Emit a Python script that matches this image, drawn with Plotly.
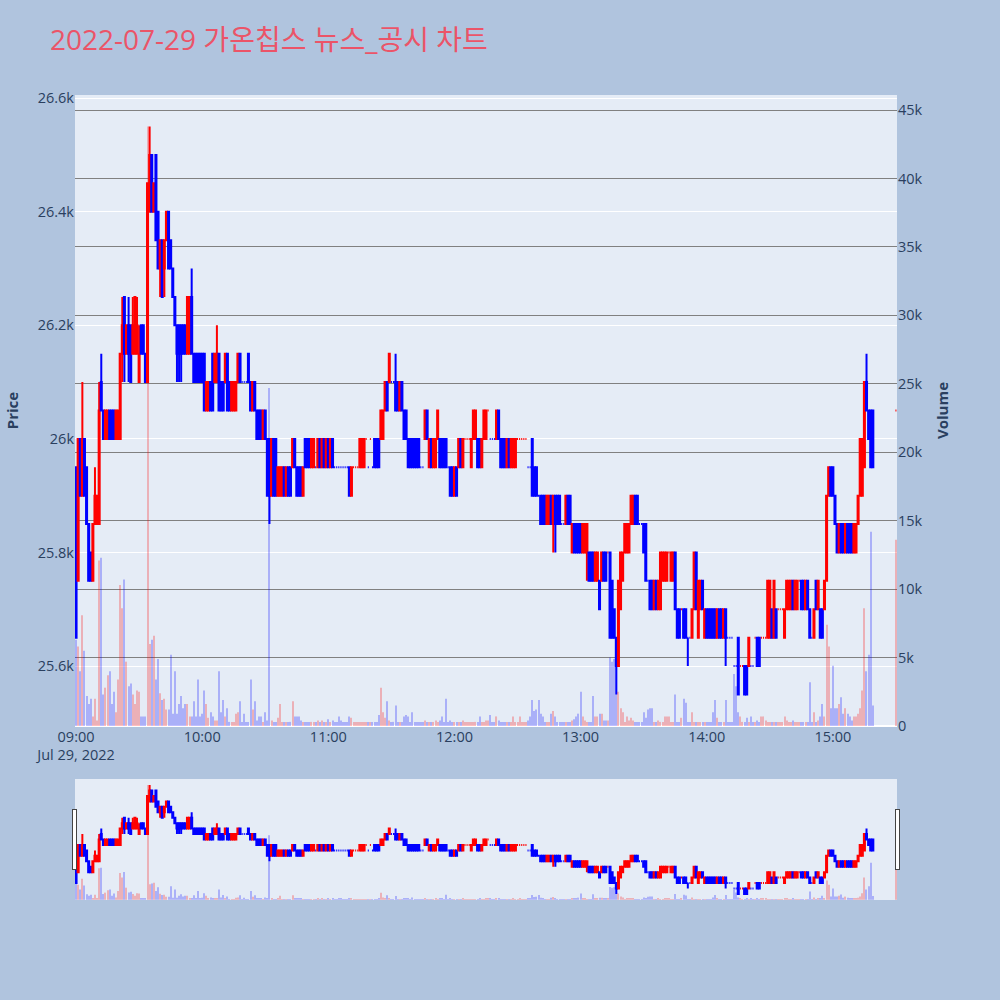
import plotly.graph_objects as go
from plotly.subplots import make_subplots
import pandas as pd

# 1분봉: 09:00 ~ 15:19 연속 체결, 15:30 동시호가 1건
times = pd.date_range("2022-07-29 09:00", periods=380, freq="min").append(
    pd.DatetimeIndex(["2022-07-29 15:30"]))

opens = [
    25950, 25750, 26000, 25900, 26000, 25950, 25850, 25800, 25750, 25850,
    25850, 25850, 26100, 26050, 26000, 26000, 26050, 26050, 26050, 26000,
    26000, 26000, 26150, 26250, 26150, 26200, 26200, 26150, 26150, 26150,
    26100, 26200, 26200, 26150, 26100, 26400, 26500, 26400, 26500, 26400,
    26300, 26350, 26300, 26350, 26400, 26350, 26300, 26250, 26200, 26200,
    26200, 26200, 26200, 26150, 26150, 26250, 26150, 26150, 26150, 26150,
    26150, 26150, 26050, 26050, 26100, 26150, 26100, 26100, 26150, 26100,
    26100, 26100, 26150, 26100, 26050, 26050, 26050, 26100, 26150, 26100,
    26100, 26100, 26150, 26100, 26050, 26100, 26050, 26050, 26050, 26000,
    26050, 26000, 26000, 25900, 26000, 26000, 25900, 25900, 25900, 25950,
    25900, 25950, 25950, 25950, 26000, 25950, 25950, 25950, 25900, 26000,
    26000, 26000, 25950, 25950, 25950, 25950, 26000, 25950, 26000, 25950,
    26000, 25950, 26000, 25950, 25950, 25950, 25950, 25950, 25950, 25950,
    25950, 25900, 25950, 25950, 25950, 25950, 25950, 25950, 26000, 25950,
    26000, 25950, 26000, 26000, 26000, 26000, 26000, 26050, 26100, 26100,
    26100, 26100, 26100, 26100, 26050, 26100, 26050, 26050, 26000, 26000,
    26000, 26000, 26000, 26000, 25950, 25950, 26000, 26050, 25950, 26000,
    25950, 25950, 26000, 26000, 26000, 26000, 26000, 25950, 25950, 25950,
    25900, 25950, 25950, 26000, 25950, 26000, 26000, 26000, 25950, 26000,
    26000, 26000, 26000, 25950, 26000, 26000, 26050, 26000, 26000, 26000,
    26000, 26050, 26000, 26000, 26000, 25950, 26000, 25950, 25950, 25950,
    26000, 26000, 26000, 26000, 26000, 25950, 25950, 26000, 25950, 25950,
    25900, 25900, 25900, 25900, 25850, 25850, 25900, 25850, 25900, 25900,
    25900, 25850, 25850, 25850, 25900, 25900, 25800, 25850, 25850, 25850,
    25850, 25800, 25800, 25800, 25800, 25800, 25800, 25750, 25750, 25750,
    25750, 25800, 25800, 25800, 25800, 25750, 25700, 25650, 25600, 25700,
    25750, 25800, 25800, 25800, 25850, 25850, 25900, 25900, 25850, 25850,
    25850, 25850, 25750, 25750, 25750, 25700, 25750, 25700, 25700, 25750,
    25750, 25750, 25800, 25750, 25750, 25800, 25700, 25700, 25700, 25700,
    25700, 25650, 25650, 25650, 25700, 25800, 25650, 25700, 25750, 25650,
    25700, 25700, 25700, 25700, 25700, 25650, 25700, 25700, 25650, 25700,
    25650, 25650, 25650, 25600, 25600, 25650, 25600, 25600, 25600, 25600,
    25600, 25600, 25600, 25650, 25650, 25650, 25650, 25650, 25650, 25650,
    25650, 25700, 25650, 25700, 25700, 25700, 25700, 25650, 25700, 25700,
    25700, 25750, 25700, 25700, 25750, 25750, 25750, 25700, 25750, 25700,
    25650, 25650, 25750, 25700, 25700, 25700, 25700, 25750, 25900, 25950,
    25950, 25900, 25850, 25800, 25850, 25850, 25800, 25850, 25850, 25850,
    25800, 25800, 25850, 25900, 25900, 25950, 26100, 26050, 26050, 26050,
    26050,
]

highs = [
    25950, 26000, 26000, 26100, 26000, 25950, 25850, 25800, 25850, 25950,
    25900, 26100, 26150, 26050, 26050, 26050, 26050, 26050, 26050, 26050,
    26050, 26150, 26250, 26250, 26200, 26250, 26200, 26250, 26250, 26250,
    26200, 26200, 26200, 26150, 26450, 26550, 26500, 26450, 26500, 26400,
    26350, 26350, 26350, 26400, 26400, 26350, 26300, 26250, 26200, 26200,
    26200, 26200, 26200, 26250, 26250, 26300, 26150, 26150, 26150, 26150,
    26150, 26150, 26100, 26100, 26100, 26150, 26150, 26200, 26150, 26100,
    26100, 26150, 26150, 26100, 26100, 26100, 26100, 26150, 26150, 26100,
    26100, 26100, 26150, 26100, 26100, 26100, 26050, 26050, 26050, 26050,
    26050, 26000, 26000, 26000, 26000, 26000, 25950, 25950, 25950, 25950,
    25950, 25950, 25950, 26000, 26000, 25950, 25950, 25950, 25950, 26000,
    26000, 26000, 26000, 26000, 25950, 26000, 26000, 26000, 26000, 26000,
    26000, 26000, 26000, 25950, 25950, 25950, 25950, 25950, 25950, 25950,
    25950, 25950, 25950, 25950, 25950, 26000, 26000, 26000, 26000, 25950,
    26000, 25950, 26000, 26000, 26000, 26050, 26050, 26100, 26100, 26150,
    26100, 26100, 26150, 26100, 26100, 26100, 26050, 26050, 26000, 26000,
    26000, 26000, 26000, 26000, 25950, 25950, 26050, 26050, 26000, 26000,
    26000, 26000, 26050, 26000, 26000, 26000, 26000, 25950, 25950, 25950,
    25950, 25950, 26000, 26000, 26000, 26000, 26000, 26000, 26000, 26050,
    26050, 26000, 26000, 26000, 26050, 26050, 26050, 26000, 26000, 26000,
    26050, 26050, 26000, 26000, 26000, 26000, 26000, 26000, 26000, 26000,
    26000, 26000, 26000, 26000, 26000, 25950, 25950, 26000, 25950, 25950,
    25900, 25900, 25900, 25900, 25900, 25900, 25900, 25900, 25900, 25900,
    25900, 25850, 25850, 25900, 25900, 25900, 25850, 25850, 25850, 25850,
    25850, 25850, 25850, 25850, 25800, 25800, 25800, 25800, 25800, 25750,
    25800, 25800, 25800, 25800, 25800, 25750, 25700, 25650, 25750, 25800,
    25800, 25850, 25850, 25850, 25900, 25900, 25900, 25900, 25850, 25850,
    25850, 25850, 25750, 25750, 25750, 25750, 25750, 25750, 25800, 25800,
    25800, 25800, 25800, 25800, 25800, 25800, 25700, 25700, 25700, 25700,
    25700, 25650, 25650, 25700, 25800, 25800, 25750, 25750, 25750, 25700,
    25700, 25700, 25700, 25700, 25700, 25700, 25700, 25700, 25700, 25700,
    25650, 25650, 25650, 25600, 25600, 25650, 25600, 25600, 25600, 25600,
    25650, 25600, 25600, 25650, 25650, 25650, 25650, 25650, 25650, 25750,
    25750, 25700, 25750, 25700, 25700, 25700, 25700, 25700, 25750, 25750,
    25750, 25750, 25750, 25750, 25750, 25750, 25750, 25750, 25750, 25700,
    25650, 25700, 25750, 25750, 25700, 25700, 25750, 25900, 25950, 25950,
    25950, 25900, 25850, 25850, 25850, 25850, 25850, 25850, 25850, 25850,
    25850, 25850, 25900, 26000, 26000, 26100, 26150, 26050, 26050, 26050,
    26050,
]

lows = [
    25650, 25750, 25900, 25900, 25900, 25850, 25750, 25750, 25750, 25850,
    25850, 25850, 26050, 26000, 26000, 26000, 26000, 26000, 26000, 26000,
    26000, 26000, 26100, 26100, 26150, 26100, 26100, 26150, 26150, 26150,
    26100, 26150, 26150, 26100, 26100, 26400, 26400, 26400, 26350, 26300,
    26250, 26250, 26250, 26350, 26300, 26300, 26250, 26200, 26100, 26100,
    26100, 26150, 26150, 26150, 26150, 26150, 26100, 26100, 26100, 26100,
    26100, 26050, 26050, 26050, 26050, 26050, 26100, 26100, 26050, 26050,
    26050, 26100, 26050, 26050, 26050, 26050, 26050, 26100, 26100, 26100,
    26100, 26100, 26100, 26050, 26050, 26050, 26000, 26000, 26000, 26000,
    26000, 25900, 25850, 25900, 25900, 25900, 25900, 25900, 25900, 25900,
    25900, 25900, 25900, 25950, 25950, 25900, 25900, 25900, 25900, 25950,
    25950, 25950, 25950, 25950, 25950, 25950, 25950, 25950, 25950, 25950,
    25950, 25950, 25950, 25950, 25950, 25950, 25950, 25950, 25950, 25950,
    25900, 25900, 25950, 25950, 25950, 25950, 25950, 25950, 26000, 25950,
    26000, 25950, 25950, 25950, 25950, 26000, 26000, 26050, 26050, 26100,
    26100, 26100, 26050, 26050, 26050, 26050, 26000, 26000, 25950, 25950,
    25950, 25950, 25950, 25950, 25950, 25950, 26000, 26000, 25950, 25950,
    25950, 25950, 26000, 25950, 25950, 25950, 25950, 25950, 25900, 25900,
    25900, 25900, 25950, 25950, 25950, 26000, 26000, 26000, 25950, 26000,
    26000, 25950, 25950, 25950, 26000, 26000, 26050, 26000, 26000, 26000,
    26000, 26000, 25950, 25950, 25950, 25950, 25950, 25950, 25950, 25950,
    26000, 26000, 26000, 26000, 26000, 25950, 25950, 25900, 25900, 25900,
    25900, 25850, 25850, 25850, 25850, 25850, 25850, 25800, 25800, 25850,
    25850, 25850, 25850, 25850, 25850, 25850, 25800, 25800, 25800, 25800,
    25800, 25800, 25800, 25750, 25750, 25750, 25750, 25750, 25750, 25700,
    25750, 25750, 25750, 25800, 25650, 25650, 25650, 25550, 25600, 25700,
    25750, 25800, 25800, 25800, 25850, 25850, 25850, 25850, 25850, 25850,
    25800, 25750, 25750, 25700, 25700, 25700, 25700, 25700, 25700, 25750,
    25750, 25750, 25800, 25750, 25750, 25700, 25650, 25650, 25700, 25650,
    25650, 25600, 25650, 25650, 25700, 25700, 25650, 25700, 25700, 25650,
    25650, 25650, 25650, 25650, 25650, 25650, 25650, 25650, 25650, 25600,
    25650, 25650, 25650, 25600, 25600, 25550, 25600, 25600, 25550, 25550,
    25600, 25600, 25600, 25650, 25600, 25600, 25650, 25650, 25650, 25650,
    25650, 25650, 25650, 25650, 25700, 25700, 25700, 25650, 25700, 25700,
    25700, 25700, 25700, 25700, 25750, 25700, 25700, 25700, 25700, 25650,
    25650, 25650, 25700, 25700, 25650, 25650, 25700, 25750, 25900, 25900,
    25900, 25850, 25800, 25800, 25800, 25800, 25800, 25800, 25800, 25800,
    25800, 25800, 25850, 25900, 25900, 25950, 26050, 26000, 25950, 25950,
    26050,
]

closes = [
    25650, 26000, 25900, 26000, 25900, 25850, 25750, 25750, 25850, 25900,
    25900, 26050, 26050, 26000, 26050, 26050, 26000, 26000, 26000, 26050,
    26050, 26150, 26200, 26150, 26200, 26150, 26100, 26200, 26250, 26200,
    26150, 26150, 26150, 26100, 26450, 26500, 26400, 26450, 26350, 26300,
    26350, 26250, 26350, 26400, 26300, 26300, 26250, 26200, 26150, 26150,
    26150, 26150, 26150, 26250, 26250, 26150, 26100, 26100, 26100, 26100,
    26100, 26050, 26100, 26100, 26050, 26050, 26150, 26150, 26050, 26050,
    26050, 26150, 26050, 26050, 26100, 26100, 26100, 26150, 26100, 26100,
    26100, 26100, 26100, 26050, 26100, 26050, 26000, 26000, 26000, 26050,
    26000, 25900, 25900, 26000, 25900, 25900, 25950, 25950, 25950, 25900,
    25950, 25900, 25900, 26000, 25950, 25900, 25900, 25900, 25950, 25950,
    25950, 25950, 26000, 26000, 25950, 26000, 25950, 26000, 25950, 26000,
    25950, 26000, 25950, 25950, 25950, 25950, 25950, 25950, 25950, 25950,
    25900, 25950, 25950, 25950, 25950, 26000, 26000, 26000, 26000, 25950,
    26000, 25950, 25950, 25950, 25950, 26050, 26050, 26100, 26050, 26150,
    26100, 26100, 26050, 26050, 26100, 26050, 26000, 26000, 25950, 25950,
    25950, 25950, 25950, 25950, 25950, 25950, 26050, 26000, 26000, 25950,
    26000, 26000, 26050, 25950, 25950, 25950, 25950, 25950, 25900, 25900,
    25950, 25900, 26000, 25950, 26000, 26000, 26000, 26000, 26000, 26050,
    26050, 25950, 25950, 26000, 26050, 26050, 26050, 26000, 26000, 26000,
    26050, 26000, 25950, 25950, 25950, 26000, 25950, 26000, 26000, 26000,
    26000, 26000, 26000, 26000, 26000, 25950, 25950, 25900, 25900, 25900,
    25900, 25850, 25850, 25850, 25900, 25900, 25850, 25900, 25850, 25850,
    25850, 25850, 25850, 25900, 25850, 25850, 25850, 25800, 25800, 25800,
    25800, 25850, 25850, 25850, 25750, 25750, 25750, 25800, 25800, 25700,
    25800, 25750, 25750, 25800, 25650, 25650, 25650, 25600, 25750, 25800,
    25800, 25850, 25850, 25850, 25900, 25900, 25850, 25850, 25850, 25850,
    25800, 25750, 25750, 25700, 25700, 25750, 25700, 25750, 25800, 25800,
    25800, 25800, 25800, 25800, 25800, 25700, 25650, 25650, 25700, 25650,
    25650, 25650, 25650, 25700, 25800, 25700, 25750, 25750, 25700, 25700,
    25650, 25650, 25650, 25650, 25650, 25700, 25650, 25650, 25700, 25650,
    25650, 25650, 25650, 25600, 25600, 25550, 25600, 25600, 25550, 25550,
    25650, 25600, 25600, 25650, 25600, 25600, 25650, 25650, 25650, 25750,
    25750, 25650, 25750, 25650, 25700, 25700, 25700, 25700, 25750, 25750,
    25750, 25700, 25750, 25750, 25750, 25700, 25700, 25750, 25700, 25650,
    25650, 25700, 25700, 25750, 25650, 25650, 25750, 25900, 25950, 25900,
    25900, 25850, 25800, 25850, 25800, 25800, 25850, 25800, 25800, 25800,
    25850, 25850, 25900, 26000, 26000, 26100, 26050, 26000, 25950, 25950,
    26050,
]

volumes = [
    6300, 5800, 4000, 8100, 5500, 2200, 1600, 2000, 700, 2000,
    400, 12100, 12300, 2300, 2800, 3700, 4000, 1600, 2500, 1000,
    3400, 10300, 8600, 10700, 4700, 2900, 3100, 2300, 1600, 2600,
    2500, 700, 700, 700, 43800, 6000, 6300, 6600, 3400, 4900,
    2400, 1900, 2000, 1200, 1200, 5200, 900, 4000, 900, 1600,
    2200, 1300, 1600, 1600, 700, 700, 1800, 700, 3400, 700,
    900, 2600, 1600, 600, 1000, 700, 400, 400, 4000, 1000,
    1900, 700, 1300, 300, 300, 300, 900, 1000, 1800, 300,
    900, 300, 300, 3400, 1200, 1800, 400, 700, 700, 300,
    1000, 400, 24700, 400, 300, 300, 600, 1600, 300, 300,
    300, 300, 300, 1800, 700, 700, 700, 400, 300, 300,
    300, 300, 300, 300, 300, 400, 300, 400, 300, 300,
    500, 300, 400, 300, 300, 700, 400, 300, 300, 300,
    700, 600, 300, 300, 300, 300, 300, 300, 300, 300,
    300, 300, 300, 300, 800, 2800, 1000, 600, 1800, 400,
    300, 300, 1500, 300, 300, 300, 700, 800, 700, 300,
    1000, 300, 300, 300, 300, 300, 400, 300, 300, 300,
    300, 400, 300, 400, 700, 300, 2000, 300, 400, 300,
    300, 300, 300, 300, 400, 300, 300, 300, 300, 300,
    300, 300, 700, 300, 300, 400, 400, 800, 300, 300,
    700, 400, 300, 300, 300, 300, 300, 300, 700, 300,
    300, 700, 300, 300, 300, 400, 700, 1900, 1100, 1200,
    1900, 900, 700, 300, 300, 300, 900, 1100, 700, 300,
    300, 300, 300, 300, 300, 300, 400, 500, 700, 900,
    2500, 700, 400, 300, 300, 300, 2200, 700, 700, 900,
    900, 400, 400, 400, 5000, 4700, 4900, 4600, 2500, 1300,
    1000, 300, 700, 400, 600, 400, 300, 300, 300, 300,
    1000, 600, 1200, 1300, 1300, 300, 300, 400, 300, 300,
    700, 700, 700, 300, 300, 2300, 300, 300, 600, 2000,
    1700, 300, 300, 1000, 300, 300, 300, 300, 300, 300,
    300, 300, 300, 1000, 1900, 600, 300, 300, 300, 1900,
    300, 300, 300, 3800, 2900, 1000, 700, 300, 300, 600,
    300, 700, 300, 300, 400, 300, 700, 700, 400, 300,
    300, 300, 300, 300, 300, 300, 300, 700, 400, 300,
    300, 400, 300, 300, 300, 300, 300, 300, 300, 3200,
    300, 1000, 300, 400, 700, 1600, 700, 7400, 5800, 1300,
    4400, 1300, 1300, 1600, 2100, 900, 1300, 900, 700, 400,
    700, 700, 900, 1300, 2600, 8600, 4000, 5200, 14200, 1500,
    13600,
]

# 거래량 막대 색: 양봉 빨강, 음봉 파랑 (보합은 직전 방향 유지)
vol_colors = []
prev_close = opens[0]
up = True
for o, c in zip(opens, closes):
    if c > o:
        up = True
    elif c < o:
        up = False
    elif c != prev_close:
        up = c > prev_close
    vol_colors.append("red" if up else "blue")
    prev_close = c

fig = make_subplots(specs=[[{"secondary_y": True}]])

fig.add_trace(go.Candlestick(
    x=times, open=opens, high=highs, low=lows, close=closes,
    increasing=dict(line=dict(color="red"), fillcolor="red"),
    decreasing=dict(line=dict(color="blue"), fillcolor="blue"),
    name="Price",
), secondary_y=False)

fig.add_trace(go.Bar(
    x=times, y=volumes,
    marker=dict(color=vol_colors, line=dict(width=0)),
    opacity=0.25,
    width=30000,
    name="Volume",
), secondary_y=True)

fig.update_layout(
    width=1000,
    height=1000,
    font=dict(size=14.5),
    title=dict(text="2022-07-29 가온칩스 뉴스_공시 차트",
               font=dict(size=28, color="#EB5468",
                         family="Open Sans, Noto Sans CJK KR"),
               x=0.05, y=0.96, yanchor="middle"),
    paper_bgcolor="lightsteelblue",
    plot_bgcolor="#E5ECF6",
    showlegend=False,
    margin=dict(l=75, r=103, t=95, b=100),
    xaxis=dict(domain=[0, 1], showgrid=False,
               rangeslider=dict(visible=True, bgcolor="#E5ECF6")),
)
fig.update_yaxes(title_text="<b>Price</b>", title_font=dict(size=15),
                 gridcolor="white", secondary_y=False)
fig.update_yaxes(title_text="<b>Volume</b>", title_font=dict(size=15),
                 gridcolor="gray", secondary_y=True)

# 페이지 여백 제거 (차트가 창 전체를 채우도록)
fig.write_html("out.html", config={"displayModeBar": False},
               post_script="document.body.style.margin = '0';")
